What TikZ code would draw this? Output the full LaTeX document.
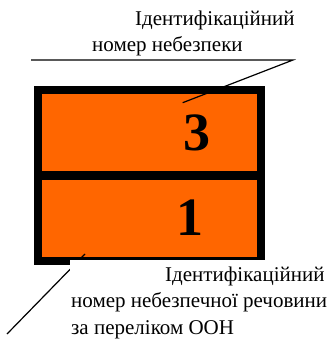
\documentclass[tikz,border=0pt]{standalone}
\usepackage{fontspec}
\setmainfont{Liberation Serif}
\definecolor{plateorange}{HTML}{FF6600}
\begin{document}
\begin{tikzpicture}[x=1pt,y=-1pt,
  lbl/.style={inner sep=0pt,anchor=base west,font=\fontsize{21}{26}\selectfont},
  digit/.style={inner sep=0pt,anchor=base,font=\fontsize{54}{60}\selectfont\bfseries},
  leader/.style={line width=1.2pt,black},
  panel/.style={fill=plateorange,draw=none,inner sep=0pt}]
\useasboundingbox (0,0) rectangle (332,344);
% plate
\fill[black] (34,85.7) rectangle (265,265);
\node[panel,minimum width=215pt,minimum height=77.3pt,anchor=north west] (upper) at (42,93.7) {};
\node[panel,minimum width=215pt,minimum height=77pt,anchor=north west] (lower) at (42,180) {};
\node[digit] (d3) at (197,151) {3};
\node[digit] (d1) at (190,235) {1};
% top label
\node[lbl] (t1) at (135,26) {Ідентифікаційний};
\node[lbl] (t2) at (92,52) {номер небезпеки};
\coordinate (hl) at (31,60);
\coordinate (hr) at (293,60);
\coordinate (tp) at (182.7,102.7);
\draw[leader] (hl) -- (hr) -- (tp);
% bottom label
\coordinate (bp) at (85,254);
\coordinate (be) at (7,334);
\draw[leader] (bp) -- (be);
\node[fill=white,draw=none,inner sep=0pt,minimum width=262pt,minimum height=84pt,anchor=north west] (box) at (70,260) {};
\node[lbl] (b1) at (165,281) {Ідентифікаційний};
\node[lbl] (b2) at (71,307.5) {номер небезпечної речовини};
\node[lbl] (b3) at (71,334) {за переліком ООН};
\end{tikzpicture}
\end{document}
